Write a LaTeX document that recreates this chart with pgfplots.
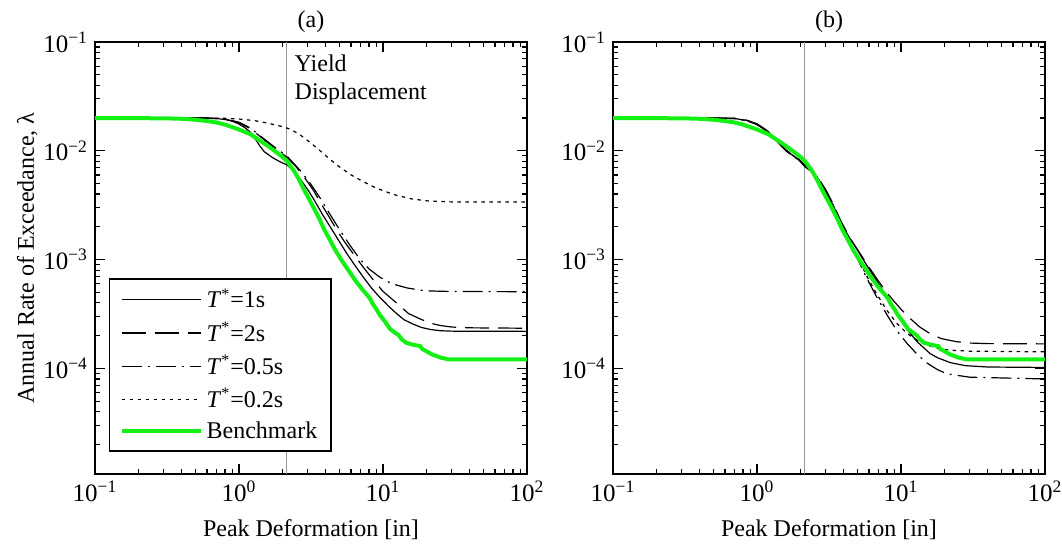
\documentclass[border=0pt]{standalone}
\usepackage{fontspec}
\setmainfont{Liberation Serif}
\usepackage{pgfplots}
\usepackage{pgfplotstable}
\pgfplotsset{compat=1.18}

\definecolor{benchgreen}{RGB}{20,240,20}
\definecolor{yieldgray}{RGB}{150,150,150}

\tikzset{
  t1/.style={black, line width=0.6pt},
  t2/.style={black, line width=0.6pt, dash pattern=on 12pt off 4.5pt},
  t05/.style={black, line width=0.6pt, dash pattern=on 10pt off 3pt on 1pt off 3pt},
  t02/.style={black, line width=0.6pt, dash pattern=on 1.75pt off 2.25pt},
  bench/.style={benchgreen, line width=2pt},
  yieldline/.style={yieldgray, line width=0.5pt},
}

% Benchmark hazard curve (same in both panels)
\pgfplotstableread{
x      y
0.1    0.0200
0.3    0.0199
0.4    0.0197
0.5    0.0193
0.6    0.0188
0.7    0.0182
0.8    0.0174
1.0    0.0157
1.2    0.0142
1.4    0.0124
1.6    0.0110
1.8    0.0098
2.0    0.0088
2.16   0.0080
2.4    0.0066
2.6    0.0055
2.8    0.0045
3.0    0.0038
3.3    0.0030
3.6    0.0024
3.9    0.0019
4.3    0.00150
4.7    0.00120
5.2    0.00097
5.9    0.00076
6.5    0.00063
7.2    0.00053
7.9    0.00046
8.2    0.00043
8.4    0.00040
9.0    0.00035
9.5    0.00031
10.3   0.00027
11.2   0.00023
12.3   0.000210
12.8   0.000203
13.5   0.000185
14.5   0.000172
16.2   0.000165
18.2   0.000160
18.8   0.000150
19.8   0.000145
22.0   0.000134
25.0   0.000126
28.5   0.000121
100    0.000121
}\benchmark

\pgfplotsset{
  hazardframe/.style={
    scale only axis, width=216pt, height=216pt,
    xmin=0.1, xmax=100, ymin=1.07e-5, ymax=0.1,
    xtick={0.1,1,10,100},
    xticklabels={10\textsuperscript{−1},10\textsuperscript{0},10\textsuperscript{1},10\textsuperscript{2}},
    ytick={1e-4,1e-3,1e-2,1e-1},
    yticklabels={10\textsuperscript{−4},10\textsuperscript{−3},10\textsuperscript{−2},10\textsuperscript{−1}},
    minor xtick={0.2,0.3,0.4,0.5,0.6,0.7,0.8,0.9,2,3,4,5,6,7,8,9,20,30,40,50,60,70,80,90},
    minor ytick={2e-5,3e-5,4e-5,5e-5,6e-5,7e-5,8e-5,9e-5,2e-4,3e-4,4e-4,5e-4,6e-4,7e-4,8e-4,9e-4,2e-3,3e-3,4e-3,5e-3,6e-3,7e-3,8e-3,9e-3,2e-2,3e-2,4e-2,5e-2,6e-2,7e-2,8e-2,9e-2},
    axis line style={line width=0.8pt},
    tick style={black, line width=0.6pt},
    major tick length=5pt, minor tick length=2.5pt,
    tick label style={font=\fontsize{12.5}{14}\selectfont},
    label style={font=\fontsize{12}{14}\selectfont},
    xlabel={Peak Deformation [in]},
    xlabel style={at={(axis description cs:0.5,0)}, anchor=center, yshift=-28pt},
    title style={at={(axis description cs:0.5,1)}, anchor=center, yshift=4pt, font=\fontsize{12}{14}\selectfont},
  },
}

\begin{document}
\begin{tikzpicture}
\path[use as bounding box] (-47.5pt,-35.5pt) rectangle (483.5pt,237pt);

% (a)
\begin{loglogaxis}[hazardframe,
  title={(a)},
  ylabel={Annual Rate of Exceedance, λ},
  ylabel style={at={(axis description cs:-0.157,0.5)}, anchor=center},
  legend image code/.code={\draw[#1] (0pt,0pt) -- (39.5pt,0pt);},
  legend cell align=left,
  legend style={at={(axis description cs:0.032,0.051)}, anchor=south west,
    draw=black, line width=0.8pt, font=\fontsize{12}{14}\selectfont,
    inner xsep=5pt, inner ysep=3pt, row sep=1.5pt},
]
\addplot[yieldline, forget plot] coordinates {(2.15,1.07e-5) (2.15,0.1)};
\addplot[t1] coordinates {(0.1,0.02) (0.5,0.02) (0.7,0.0198) (0.8,0.0194) (0.9,0.0187) (1.0,0.0176) (1.1,0.0163) (1.2,0.0148) (1.3,0.0128) (1.4,0.0110) (1.5,0.0098) (1.7,0.0087) (1.9,0.0080) (2.16,0.0074) (2.4,0.0065) (2.66,0.0055) (3.0,0.0044) (3.3,0.0036) (3.8,0.0026) (4.3,0.0020) (5.0,0.00145) (5.6,0.00114) (6.4,0.00088) (7.3,0.00069) (8.3,0.00055) (9.5,0.00045) (11,0.00037) (12.4,0.00032) (14,0.00028) (16.2,0.000255) (18.5,0.000238) (21.2,0.000228) (25,0.000222) (30,0.000220) (100,0.000219)};
\addlegendentry{\textit{T}\textsuperscript{*}=1s}
\addplot[t2] coordinates {(0.1,0.02) (0.6,0.02) (0.8,0.0196) (1.0,0.0181) (1.2,0.0160) (1.5,0.0126) (1.8,0.0104) (2.16,0.0087) (2.5,0.0071) (2.9,0.0055) (3.3,0.0043) (3.65,0.0034) (4.2,0.0025) (4.77,0.00188) (5.4,0.00146) (6.22,0.00113) (7.3,0.00085) (8.57,0.00065) (10,0.00051) (12.4,0.00040) (15,0.00032) (18.1,0.000285) (21,0.000262) (24.9,0.000248) (30,0.000240) (40,0.000236) (100,0.000234)};
\addlegendentry{\textit{T}\textsuperscript{*}=2s}
\addplot[t05] coordinates {(0.1,0.02) (0.6,0.02) (0.8,0.0197) (1.0,0.0183) (1.2,0.0162) (1.5,0.0128) (1.8,0.0106) (2.16,0.0089) (2.66,0.0066) (3.1,0.0051) (3.65,0.0037) (4.29,0.0026) (5.0,0.00188) (5.9,0.00135) (6.92,0.00101) (8.0,0.00082) (9.5,0.00069) (11.5,0.00060) (14.6,0.00055) (18,0.000525) (21.2,0.000515) (30,0.000509) (100,0.000507)};
\addlegendentry{\textit{T}\textsuperscript{*}=0.5s}
\addplot[t02] coordinates {(0.1,0.02) (0.5,0.02) (0.8,0.0199) (1.0,0.0196) (1.3,0.0189) (1.6,0.0179) (2.0,0.0167) (2.3,0.0157) (2.66,0.0140) (3.1,0.0120) (3.6,0.0102) (4.3,0.0083) (5.0,0.0071) (6.0,0.0060) (7.3,0.0052) (8.8,0.0046) (10.5,0.0042) (12.4,0.0039) (16,0.0036) (21,0.00345) (30,0.00339) (100,0.00338)};
\addlegendentry{\textit{T}\textsuperscript{*}=0.2s}
\addplot[bench] table[x=x, y=y] {\benchmark};
\addlegendentry{Benchmark}
\node[anchor=west, align=left, inner sep=3pt, font=\fontsize{12}{13.9}\selectfont] at (axis cs:2.2,0.045) {Yield\\Displacement};
\end{loglogaxis}

% (b)
\begin{loglogaxis}[hazardframe, at={(259pt,0pt)}, title={(b)}]
\addplot[yieldline] coordinates {(2.15,1.07e-5) (2.15,0.1)};
\addplot[t1] coordinates {(0.1,0.02) (0.5,0.02) (0.7,0.0198) (0.85,0.0190) (1.0,0.0176) (1.2,0.0150) (1.4,0.0120) (1.6,0.0100) (1.9,0.0085) (2.16,0.0073) (2.4,0.0065) (2.6,0.0058) (3.0,0.0043) (3.4,0.0031) (3.8,0.0022) (4.4,0.00158) (5.0,0.00121) (6.0,0.00082) (7.0,0.00060) (8.0,0.00045) (9.3,0.00033) (11,0.000228) (13,0.000175) (15.9,0.000137) (18,0.000125) (22,0.000113) (28,0.000106) (40,0.000103) (100,0.000102)};
\addplot[t2] coordinates {(0.1,0.02) (0.5,0.02) (0.7,0.0199) (0.85,0.0191) (1.0,0.0177) (1.2,0.0151) (1.4,0.0121) (1.6,0.0101) (1.9,0.0086) (2.16,0.0074) (2.4,0.0066) (2.6,0.0059) (3.0,0.0044) (3.4,0.0032) (3.8,0.0023) (4.4,0.00160) (5.0,0.00123) (6.0,0.00085) (7.0,0.00063) (7.94,0.00050) (9.0,0.00041) (10,0.00035) (11.6,0.000287) (13.5,0.000240) (15.9,0.000209) (19,0.000188) (24.3,0.000176) (30,0.000171) (40,0.000169) (100,0.000168)};
\addplot[t05] coordinates {(0.1,0.02) (0.5,0.02) (0.7,0.0198) (0.85,0.0189) (1.0,0.0174) (1.2,0.0148) (1.4,0.0119) (1.6,0.0099) (1.9,0.0084) (2.16,0.0071) (2.4,0.0064) (2.6,0.0057) (3.0,0.0042) (3.4,0.0030) (3.8,0.0022) (4.0,0.0019) (4.5,0.00137) (5.0,0.00101) (5.8,0.00067) (6.8,0.00045) (8,0.00031) (9.3,0.000225) (11,0.000170) (12.8,0.000137) (15,0.000113) (18,0.000097) (21,0.000089) (30,0.000083) (100,0.000080)};
\addplot[t02] coordinates {(0.1,0.02) (0.5,0.02) (0.7,0.0198) (0.85,0.0190) (1.0,0.0175) (1.2,0.0149) (1.4,0.0120) (1.6,0.0100) (1.9,0.0085) (2.16,0.0072) (2.4,0.0065) (2.6,0.0058) (3.0,0.0043) (3.4,0.0031) (3.8,0.0022) (4.0,0.0019) (4.5,0.00140) (5.0,0.00105) (5.8,0.00070) (6.8,0.00048) (8,0.00034) (9.3,0.000262) (11,0.000210) (13,0.000180) (15,0.000164) (18,0.000153) (22,0.000147) (30,0.000144) (100,0.000142)};
\addplot[bench] table[x=x, y=y] {\benchmark};
\end{loglogaxis}
\end{tikzpicture}
\end{document}
